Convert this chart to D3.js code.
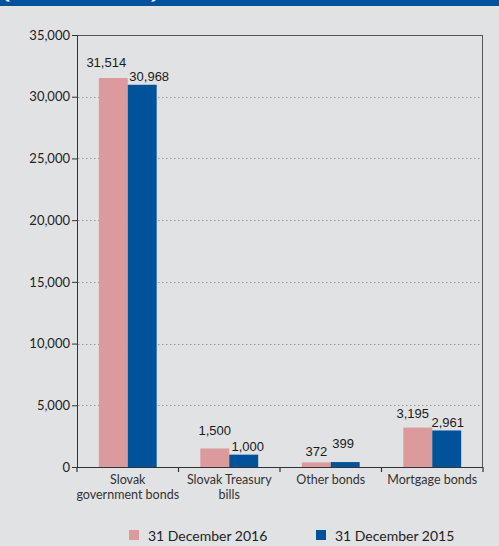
<!DOCTYPE html>
<html>
<head>
<meta charset="utf-8">
<script src="https://cdn.jsdelivr.net/npm/d3@7"></script>
<style>
  html, body { margin: 0; padding: 0; background: #e1e2e4; }
  svg { display: block; }
</style>
</head>
<body>
<script>
// Holdings of debt securities by type (EUR millions)
const categories = [["Slovak", "government bonds"], ["Slovak Treasury", "bills"], ["Other bonds"], ["Mortgage bonds"]];
const seriesNames = ["31 December 2016", "31 December 2015"];
const values2016 = [31514, 1500, 372, 3195];
const values2015 = [30968, 1000, 399, 2961];
const yTicks = [0, 5000, 10000, 15000, 20000, 25000, 30000, 35000];
const colors = ["#dc9a9c", "#00539b"];

// hand-placed value label offsets (gap above bar top, horizontal nudge), per series
const labelGap = [[11, 13, 6, 10], [4, 4, 14, 3]];
const labelNudge = [[-7, 0, 0, -5], [7, 4, -2, 1]];

const W = 499, H = 546;
const margin = { left: 77, right: 16, top: 35, bottom: 79 };
const innerW = W - margin.left - margin.right;
const innerH = H - margin.top - margin.bottom;

const svg = d3.select("body").append("svg").attr("width", W).attr("height", H);

svg.append("rect").attr("width", W).attr("height", H).attr("fill", "#e1e2e4");

// header strip
svg.append("defs").append("clipPath").attr("id", "hdr")
  .append("rect").attr("x", 0).attr("y", 0).attr("width", W).attr("height", 6);
svg.append("rect").attr("x", 0).attr("y", 0).attr("width", W).attr("height", 6).attr("fill", "#00529c");
svg.append("text").attr("clip-path", "url(#hdr)")
  .attr("x", 3).attr("y", -1.5)
  .attr("font-family", "'Noto Sans', sans-serif").attr("font-weight", "bold")
  .attr("font-size", 15).attr("fill", "#fff")
  .attr("textLength", 155).attr("lengthAdjust", "spacingAndGlyphs")
  .text("(EUR millions)");

const g = svg.append("g").attr("transform", `translate(${margin.left},${margin.top})`);

const x = d3.scaleBand().domain(d3.range(categories.length)).range([0, innerW]).paddingInner(0.43).paddingOuter(0.215);
const band = d3.scaleBand().domain([0, 1]).range([0, x.bandwidth()]);
const y = d3.scaleLinear().domain([0, 35000]).range([innerH, 0]);

// dotted gridlines
g.append("g").selectAll("line").data(yTicks.filter(t => t > 0 && t < 35000)).join("line")
  .attr("x1", 1).attr("x2", innerW)
  .attr("y1", d => Math.round(y(d)) + 0.5).attr("y2", d => Math.round(y(d)) + 0.5)
  .attr("stroke", "#999").attr("stroke-width", 1).attr("stroke-dasharray", "1.5,2.5");

// frame: top and right
g.append("line").attr("x1", 0).attr("x2", innerW).attr("y1", 0.5).attr("y2", 0.5)
  .attr("stroke", "#555").attr("stroke-width", 1);
g.append("line").attr("x1", innerW - 0.5).attr("x2", innerW - 0.5).attr("y1", 0).attr("y2", innerH)
  .attr("stroke", "#555").attr("stroke-width", 1);

// bars
const series = [values2016, values2015];
series.forEach((vals, si) => {
  g.append("g").selectAll("rect").data(vals).join("rect")
    .attr("x", (d, i) => x(i) + band(si))
    .attr("y", d => y(d))
    .attr("width", band.bandwidth())
    .attr("height", d => innerH - y(d))
    .attr("fill", colors[si]);
});

// value labels
const fmt = d3.format(",");
series.forEach((vals, si) => {
  g.append("g").selectAll("text").data(vals).join("text")
    .attr("x", (d, i) => x(i) + band(si) + band.bandwidth() / 2 + labelNudge[si][i])
    .attr("y", (d, i) => y(d) - labelGap[si][i])
    .attr("text-anchor", "middle")
    .attr("font-family", "'Liberation Sans', Arial, sans-serif")
    .attr("font-size", 13).attr("fill", "#1a1a1a")
    .text(d => fmt(d));
});

// y axis
const yAxis = d3.axisLeft(y).tickValues(yTicks).tickFormat(fmt).tickSize(5).tickPadding(2);
const ya = g.append("g").call(yAxis);
ya.select(".domain").attr("stroke", "#333");
ya.selectAll(".tick line").attr("stroke", "#333");
ya.selectAll("text").attr("font-family", "Lato, sans-serif").attr("font-size", 13).attr("fill", "#222");

// x axis with ticks at band boundaries
g.append("line").attr("x1", 0).attr("x2", innerW).attr("y1", innerH + 0.5).attr("y2", innerH + 0.5)
  .attr("stroke", "#333").attr("stroke-width", 1.2);
const step = innerW / categories.length;
g.append("g").selectAll("line").data(d3.range(categories.length + 1)).join("line")
  .attr("x1", d => d * step).attr("x2", d => d * step)
  .attr("y1", innerH).attr("y2", innerH + 5)
  .attr("stroke", "#333").attr("stroke-width", 1.2);

const catG = g.append("g").selectAll("text").data(categories).join("text")
  .attr("x", (d, i) => x(i) + x.bandwidth() / 2)
  .attr("y", innerH + 17)
  .attr("text-anchor", "middle")
  .attr("font-family", "Lato, sans-serif").attr("font-size", 12.5).attr("fill", "#333");
catG.selectAll("tspan").data(d => d).join("tspan")
  .attr("x", function () { return d3.select(this.parentNode).attr("x"); })
  .attr("dy", (d, i) => i === 0 ? 0 : 15)
  .text(d => d);

// legend
const legendX = [129, 316];
const lg = svg.append("g").selectAll("g").data(seriesNames).join("g")
  .attr("transform", (d, i) => `translate(${legendX[i]},530)`);
lg.append("rect").attr("width", 10).attr("height", 10).attr("fill", (d, i) => colors[i]);
lg.append("text").attr("x", 19).attr("y", 11)
  .attr("font-family", "Lato, sans-serif").attr("font-size", 14).attr("fill", "#222")
  .text(d => d);
</script>
</body>
</html>
